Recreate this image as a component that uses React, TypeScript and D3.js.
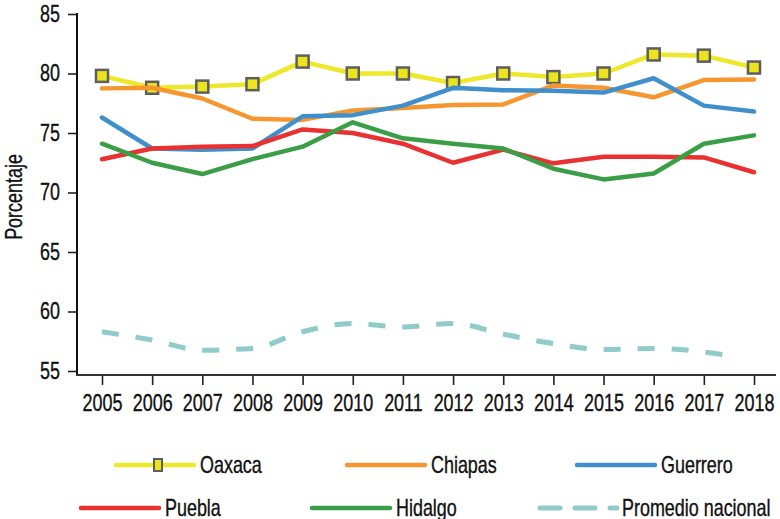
import * as d3 from "d3";
import { useEffect, useRef } from "react";

const years = [2005, 2006, 2007, 2008, 2009, 2010, 2011, 2012, 2013, 2014, 2015, 2016, 2017, 2018];
const oaxaca = [79.8, 78.8, 78.9, 79.1, 81.0, 80.0, 80.0, 79.2, 80.0, 79.7, 80.0, 81.6, 81.5, 80.5];
const chiapas = [78.75, 78.8, 77.9, 76.2, 76.1, 76.9, 77.1, 77.35, 77.4, 79.0, 78.8, 78.0, 79.45, 79.5];
const guerrero = [76.3, 73.7, 73.6, 73.7, 76.4, 76.5, 77.3, 78.8, 78.6, 78.55, 78.4, 79.6, 77.3, 76.8];
const puebla = [72.8, 73.7, 73.85, 73.9, 75.3, 75.0, 74.1, 72.5, 73.6, 72.45, 73.0, 73.0, 72.95, 71.7];
const hidalgo = [74.1, 72.5, 71.55, 72.8, 73.85, 75.9, 74.55, 74.1, 73.7, 72.0, 71.1, 71.6, 74.1, 74.8];
const nacional = [58.3, 57.6, 56.75, 56.9, 58.3, 59.0, 58.7, 59.0, 58.1, 57.3, 56.8, 56.9, 56.6, 55.9];
const yTicks = [55, 60, 65, 70, 75, 80, 85];

// no condensed font installed, so squeeze Liberation Sans horizontally
const FONT = "'Liberation Sans', Arial, sans-serif";
const FS = 23;
const SX = 0.78;

const series = [
  { name: "Oaxaca", values: oaxaca, color: "#ede82a", marker: true, dashed: false },
  { name: "Chiapas", values: chiapas, color: "#f7962e", marker: false, dashed: false },
  { name: "Guerrero", values: guerrero, color: "#3f8fcd", marker: false, dashed: false },
  { name: "Puebla", values: puebla, color: "#ea3131", marker: false, dashed: false },
  { name: "Hidalgo", values: hidalgo, color: "#3a9e46", marker: false, dashed: false },
  { name: "Promedio nacional", values: nacional, color: "#8ecbc9", marker: false, dashed: true },
];

// legend slots: line start x, row y
const legendPos = [
  { x: 116, y: 465 },
  { x: 347, y: 465 },
  { x: 577, y: 465 },
  { x: 81, y: 508 },
  { x: 312, y: 508 },
  { x: 540, y: 508 },
];

const textStyle = (sel) =>
  sel
    .attr("font-family", FONT)
    .attr("font-size", FS)
    .attr("fill", "#111")
    .attr("stroke", "#111")
    .attr("stroke-width", 0.35);

const squeeze = (sel) => {
  sel.each(function () {
    const t = d3.select(this);
    const x = +t.attr("x") || 0;
    t.attr("x", x / SX).attr("transform", `scale(${SX},1)`);
  });
};

const App = () => {
  const width = 780;
  const height = 519;
  const svgRef = useRef(null);

  useEffect(() => {
    if (!svgRef.current) return;
    const svg = d3.select(svgRef.current);
    svg.selectAll("*").remove();

    const x = d3.scalePoint(years, [102, 754]);
    const y = d3.scaleLinear([55, 85], [371, 14]);

    // y axis
    const yAxis = svg
      .append("g")
      .attr("transform", "translate(77,0)")
      .call(d3.axisLeft(y).tickValues(yTicks).tickSize(9).tickPadding(8).tickSizeOuter(0));
    yAxis.select(".domain").remove();
    yAxis.selectAll("line").attr("stroke", "#222").attr("stroke-width", 1.6);
    yAxis.selectAll("text").call(textStyle).call(squeeze);

    // x axis
    const xAxis = svg
      .append("g")
      .attr("transform", "translate(0,375)")
      .call(d3.axisBottom(x).tickSize(10).tickPadding(10).tickSizeOuter(0));
    xAxis.select(".domain").remove();
    xAxis.selectAll("line").attr("stroke", "#222").attr("stroke-width", 1.6);
    xAxis.selectAll("text").call(textStyle).call(squeeze);

    svg.append("line").attr("x1", 77).attr("x2", 77).attr("y1", 13).attr("y2", 376)
      .attr("stroke", "#111").attr("stroke-width", 2);
    svg.append("line").attr("x1", 76).attr("x2", 776).attr("y1", 375).attr("y2", 375)
      .attr("stroke", "#333").attr("stroke-width", 2);

    svg.append("text")
      .attr("text-anchor", "middle")
      .call(textStyle)
      .attr("transform", `translate(22,197) rotate(-90) scale(${SX},1)`)
      .text("Porcentaje");

    const line = d3.line().x((d, i) => x(years[i])).y((d) => y(d));
    const smooth = d3.line().x((d, i) => x(years[i])).y((d) => y(d)).curve(d3.curveMonotoneX);

    const plot = svg.append("g");
    series.forEach((s) => {
      const path = plot.append("path")
        .attr("d", s.dashed ? smooth(s.values) : line(s.values))
        .attr("fill", "none")
        .attr("stroke", s.color)
        .attr("stroke-width", s.dashed ? 5 : 4.5)
        .attr("stroke-linejoin", "round")
        .attr("stroke-linecap", s.dashed ? "butt" : "round");
      if (s.dashed) {
        // whole dashes only, leftover at the end stays blank
        const len = path.node().getTotalLength();
        const n = Math.floor(len / 34);
        const dash = [];
        for (let k = 0; k < n; k++) dash.push(17, 17);
        dash.push(0, len);
        path.attr("stroke-dasharray", dash.join(","));
      }
      if (s.marker) {
        plot.append("g")
          .selectAll("rect")
          .data(s.values)
          .join("rect")
          .attr("x", (d, i) => x(years[i]) - 6)
          .attr("y", (d) => y(d) - 6)
          .attr("width", 12)
          .attr("height", 12)
          .attr("fill", "#ece51e")
          .attr("stroke", "#5e5e5e")
          .attr("stroke-width", 2.5);
      }
    });

    // legend
    const legend = svg.append("g");
    series.forEach((s, i) => {
      const p = legendPos[i];
      if (s.dashed) {
        legend.append("line")
          .attr("x1", p.x).attr("x2", p.x + 77).attr("y1", p.y).attr("y2", p.y)
          .attr("stroke", s.color).attr("stroke-width", 5)
          .attr("stroke-linecap", "round")
          .attr("stroke-dasharray", "20,15");
      } else {
        legend.append("line")
          .attr("x1", p.x).attr("x2", p.x + 78).attr("y1", p.y).attr("y2", p.y)
          .attr("stroke", s.color).attr("stroke-width", 4.5)
          .attr("stroke-linecap", "round");
      }
      if (s.marker) {
        legend.append("rect")
          .attr("x", p.x + 38).attr("y", p.y - 6).attr("width", 8).attr("height", 12)
          .attr("fill", "#ece51e").attr("stroke", "#5e5e5e").attr("stroke-width", 2);
      }
      legend.append("g")
        .attr("transform", `translate(${p.x + (s.dashed ? 82 : 84)},${p.y + 8})`)
        .append("text")
        .call(textStyle)
        .attr("transform", `scale(${SX},1)`)
        .text(s.name);
    });
  }, []);

  return (
    <svg
      width={width}
      height={height}
      ref={svgRef}
      style={{ position: "absolute", left: 0, top: 0, background: "white" }}
    ></svg>
  );
};

export default App;
